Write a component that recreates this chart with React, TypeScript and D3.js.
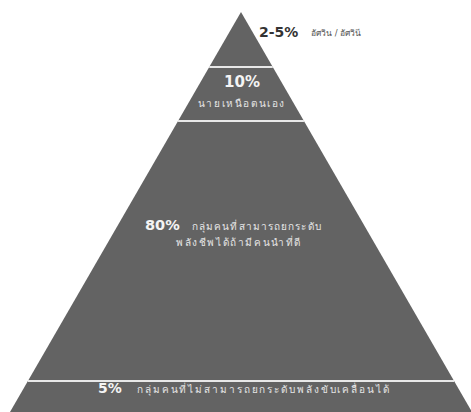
import React from "react";
import * as d3 from "d3";

const W = 471;
const H = 412;

// band edges measured from apex downward (chart units)
const bandEdges = [0, 55, 109, 369, 400];
const percentLabels = ["2-5%", "10%", "80%", "5%"];
const descLines = [
  ["อัศวิน / อัศวินี"],
  ["นายเหนือตนเอง"],
  ["กลุ่มคนที่สามารถยกระดับ", "พลังชีพได้ถ้ามีคนนำที่ดี"],
  ["กลุ่มคนที่ไม่สามารถยกระดับพลังขับเคลื่อนได้"],
];

const FILL = "#636363";
const FONT = "'DejaVu Sans', 'Noto Sans', sans-serif";

export default function App() {
  const apexX = 241;
  const y = d3.scaleLinear().domain([0, 400]).range([12, 412]);
  const halfW = d3.scaleLinear().domain([0, 400]).range([0, 231]);

  const bands = d3.pairs(bandEdges).map(([a, b], i) => {
    const pts: [number, number][] = [
      [apexX - halfW(a), y(a)],
      [apexX + halfW(a), y(a)],
      [apexX + halfW(b), y(b)],
      [apexX - halfW(b), y(b)],
    ];
    return { i, pts };
  });
  const line = d3.line();
  const thai = { fontSize: 10, letterSpacing: 1.6 };

  return (
    <svg
      width={W}
      height={H}
      style={{ position: "absolute", left: 0, top: 0, background: "#fff" }}
      fontFamily={FONT}
    >
      <rect width={W} height={H} fill="#fff" />
      {bands.map((b) => (
        <path key={b.i} d={line(b.pts) + "Z"} fill={FILL} />
      ))}
      {bandEdges.slice(1, -1).map((e, i) => (
        <line
          key={i}
          x1={apexX - halfW(e)}
          x2={apexX + halfW(e)}
          y1={y(e)}
          y2={y(e)}
          stroke="#e8e8e8"
          strokeWidth={2}
        />
      ))}
      {/* top label, outside */}
      <text x={259} y={37} fontSize={14} fontWeight="bold" fill="#333">
        {percentLabels[0]}
      </text>
      <text x={311} y={36} fontSize={8.5} fill="#555">
        {descLines[0][0]}
      </text>
      {/* 10% */}
      <text x={242} y={87} fontSize={15} fontWeight="bold" fill="#f4f4f4" textAnchor="middle">
        {percentLabels[1]}
      </text>
      <text x={242} y={107} {...thai} fill="#e6e6e6" textAnchor="middle">
        {descLines[1][0]}
      </text>
      {/* 80% */}
      <text x={145} y={230} fontSize={14.5} fontWeight="bold" fill="#f4f4f4">
        {percentLabels[2]}
      </text>
      <text x={192} y={230} {...thai} letterSpacing={1.1} fill="#e6e6e6">
        {descLines[2][0]}
      </text>
      <text x={176} y={246} {...thai} fill="#e6e6e6">
        {descLines[2][1]}
      </text>
      {/* 5% */}
      <text x={98} y={393} fontSize={14} fontWeight="bold" fill="#f4f4f4">
        {percentLabels[3]}
      </text>
      <text x={137} y={393} {...thai} letterSpacing={1.9} fill="#e6e6e6">
        {descLines[3][0]}
      </text>
    </svg>
  );
}
